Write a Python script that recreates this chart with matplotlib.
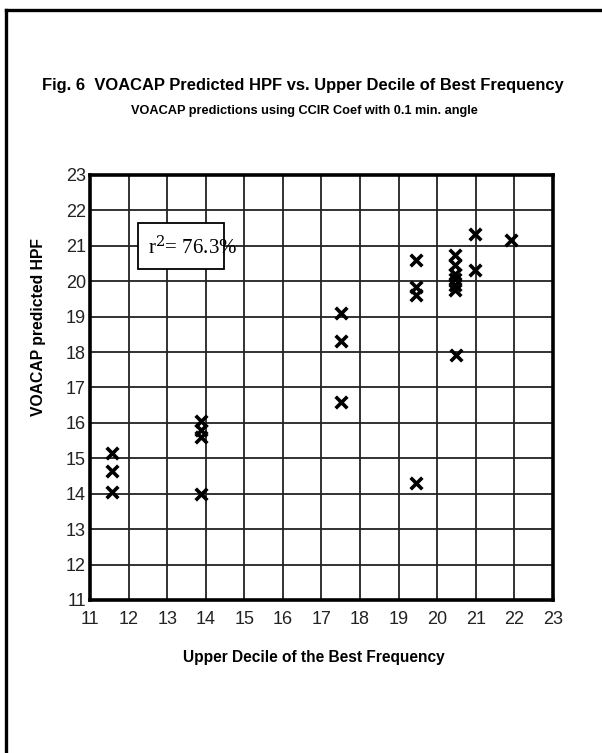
import matplotlib.pyplot as plt
import numpy as np
from matplotlib.lines import Line2D
from matplotlib.patches import Rectangle

# Upper decile of best frequency (MHz) vs. VOACAP predicted HPF (MHz)
upper_decile = [
    11.58, 11.58, 11.58,
    13.88, 13.88, 13.88, 13.88,
    17.5, 17.5, 17.5,
    19.45, 19.45, 19.45, 19.45,
    20.45, 20.45, 20.45, 20.45, 20.45, 20.45, 20.5,
    20.97, 20.97,
    21.9,
]
predicted_hpf = [
    15.15, 14.65, 14.05,
    16.05, 15.8, 15.6, 14.0,
    19.1, 18.3, 16.6,
    20.6, 19.85, 19.6, 14.3,
    20.75, 20.45, 20.2, 20.05, 19.9, 19.75, 17.92,
    21.33, 20.33,
    21.17,
]
r_squared = 76.3

x_ticks = list(range(11, 24))
y_ticks = list(range(11, 24))

title = "Fig. 6  VOACAP Predicted HPF vs. Upper Decile of Best Frequency"
subtitle = "VOACAP predictions using CCIR Coef with 0.1 min. angle"

fig = plt.figure(figsize=(6.02, 7.53), dpi=100)
ax = fig.add_axes([0.1495, 0.2032, 0.769, 0.5644])

ax.scatter(upper_decile, predicted_hpf, marker="x", s=70, linewidths=2.6,
           color="black", zorder=3, clip_on=False)

ax.set_xlim(11, 23)
ax.set_ylim(11, 23)
ax.set_xticks(x_ticks)
ax.set_yticks(y_ticks)
ax.grid(True, color="#222222", linewidth=1.3)
ax.set_axisbelow(True)
for side in ax.spines.values():
    side.set_linewidth(2.6)
    side.set_color("black")
ax.tick_params(length=0, labelsize=13, labelcolor="#222222",
               labelfontfamily="Liberation Sans")
ax.tick_params(axis="x", pad=8)
ax.tick_params(axis="y", pad=3)

ax.set_xlabel("Upper Decile of the Best Frequency", fontsize=11.2,
              fontweight="bold", family="Liberation Sans")
ax.xaxis.set_label_coords(0.483, -0.117)
ax.set_ylabel("VOACAP predicted HPF", fontsize=11.3, fontweight="bold",
              family="Liberation Sans")
ax.yaxis.set_label_coords(-0.094, 0.642)

# r-squared box
ax.add_patch(Rectangle((12.25, 20.35), 2.22, 1.3, fill=False,
                       edgecolor="black", linewidth=1.3, zorder=4))
ax.add_patch(Rectangle((12.25, 20.35), 2.22, 1.3, facecolor="white",
                       edgecolor="none", zorder=2.5))
ax.text(12.5, 20.95, f"r$^2$= {r_squared}%", fontsize=15,
        family="Liberation Serif", va="center", ha="left", zorder=5,
        math_fontfamily="dejavuserif")

fig.text(0.503, 0.886, title, ha="center", va="center", fontsize=11.9,
         fontweight="bold", family="Liberation Sans")
fig.text(0.505, 0.852, subtitle, ha="center", va="center", fontsize=9.2,
         fontweight="bold", family="Liberation Sans")

# page frame on the left and top
fig.add_artist(Line2D([0.0095, 0.0095], [0.0, 0.9867], color="black",
                      linewidth=2.4, transform=fig.transFigure))
fig.add_artist(Line2D([0.0095, 1.0], [0.9867, 0.9867], color="black",
                      linewidth=2.4, transform=fig.transFigure))

fig.savefig("out.png", dpi=100)
